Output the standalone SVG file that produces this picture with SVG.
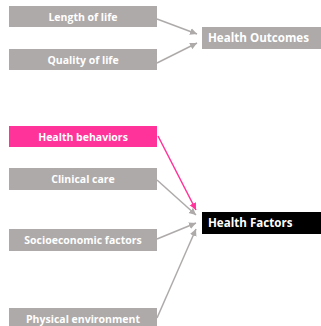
<svg xmlns="http://www.w3.org/2000/svg" width="321" height="326" viewBox="0 0 321 326">
<style>
.box{fill:#aeaaaa}
.t{font-family:"Open Sans","Liberation Sans",sans-serif;font-weight:bold;fill:#fff;font-size:10.5px;text-anchor:middle}
.big{font-family:"Open Sans","Liberation Sans",sans-serif;font-weight:bold;fill:#fff;font-size:11.6px}
.c{stroke:#aeaaaa;stroke-width:1.5;fill:none;marker-end:url(#ag)}
</style>
<defs>
<marker id="ag" markerWidth="8" markerHeight="8" refX="7" refY="4" orient="auto" markerUnits="userSpaceOnUse"><path d="M0,0.5 L7,4 L0,7.5 Z" fill="#aeaaaa"/></marker>
<marker id="ap" markerWidth="8" markerHeight="8" refX="7" refY="4" orient="auto" markerUnits="userSpaceOnUse"><path d="M0,0.5 L7,4 L0,7.5 Z" fill="#ff3399"/></marker>
</defs>
<rect width="321" height="326" fill="#fff"/>
<g id="connectors">
<line class="c" x1="157" y1="19" x2="197" y2="34"/>
<line class="c" x1="157" y1="63" x2="197" y2="43"/>
<line x1="158" y1="136" x2="196" y2="210" stroke="#ff3399" stroke-width="1.5" marker-end="url(#ap)"/>
<line class="c" x1="157" y1="180" x2="196" y2="215"/>
<line class="c" x1="157" y1="239" x2="196" y2="223"/>
<line class="c" x1="157" y1="318" x2="196" y2="229"/>
</g>
<g id="length"><rect class="box" x="9" y="6" width="148" height="21"/><text class="t" x="83" y="20.5">Length of life</text></g>
<g id="quality"><rect class="box" x="9" y="49" width="148" height="21"/><text class="t" x="83" y="63.5">Quality of life</text></g>
<g id="outcomes"><rect class="box" x="202" y="27" width="119" height="22"/><text class="big" x="208" y="42">Health Outcomes</text></g>
<g id="behaviors"><rect x="9" y="126" width="148" height="21" fill="#ff3399"/><text class="t" x="83" y="140.5">Health behaviors</text></g>
<g id="clinical"><rect class="box" x="9" y="168" width="148" height="22"/><text class="t" x="83" y="182.5">Clinical care</text></g>
<g id="socio"><rect class="box" x="9" y="229" width="148" height="22"/><text class="t" x="83" y="243.5">Socioeconomic factors</text></g>
<g id="physical"><rect class="box" x="9" y="308" width="148" height="22"/><text class="t" x="83" y="322.5">Physical environment</text></g>
<g id="factors"><rect x="202" y="212" width="119" height="22" fill="#000"/><text class="big" x="208" y="227">Health Factors</text></g>
</svg>
